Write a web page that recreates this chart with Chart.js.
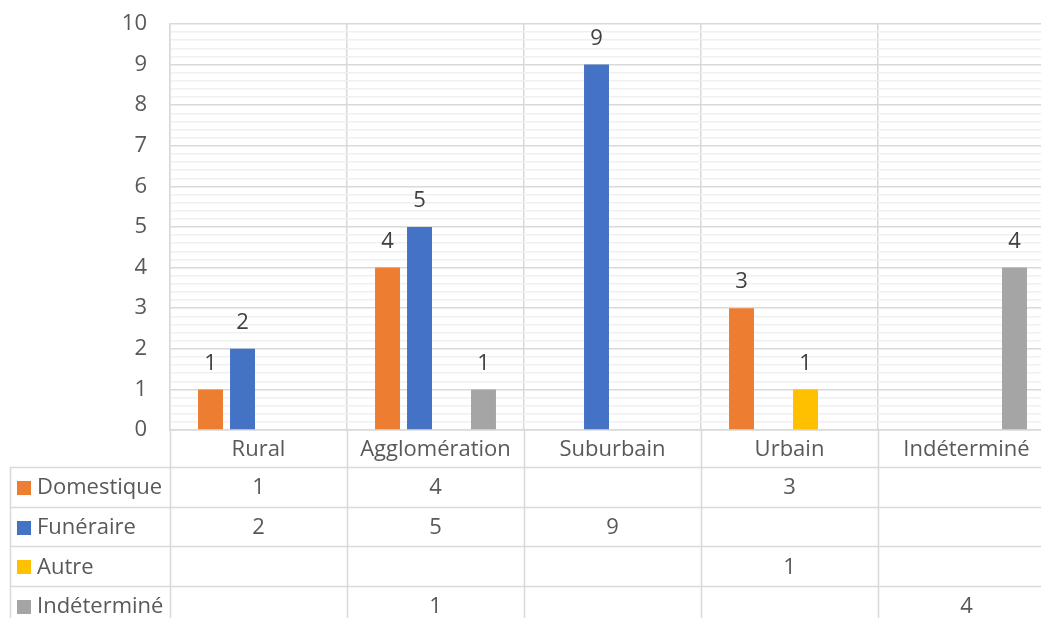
<!DOCTYPE html>
<html>
<head>
<meta charset="utf-8">
<script src="https://cdn.jsdelivr.net/npm/chart.js@4.4.1/dist/chart.umd.min.js"></script>
<style>
  html, body { margin: 0; padding: 0; background: #fff; overflow: hidden; }
  #wrap { width: 1060px; height: 618px; }
</style>
</head>
<body>
<div id="wrap"><canvas id="chart" width="1060" height="618"></canvas></div>
<script>
const categories = ['Rural', 'Agglomération', 'Suburbain', 'Urbain', 'Indéterminé'];
const seriesNames = ['Domestique', 'Funéraire', 'Autre', 'Indéterminé'];
const domestique = [1, 4, null, 3, null];
const funeraire  = [2, 5, 9, null, null];
const autre      = [null, null, null, 1, null];
const indetermine = [null, 1, null, null, 4];
const seriesColors = ['#ED7D31', '#4472C4', '#FFC000', '#A5A5A5'];

const FONT = '"Open Sans", Lato, sans-serif';
const FONT_SIZE = 22;
const TEXT = '#595959';
const LINE = '#d9d9d9';

const TABLE_TOP = 467;
const ROW_H = 39.7;

// value labels above each bar
const barLabels = {
  id: 'barLabels',
  afterDatasetsDraw(chart) {
    const ctx = chart.ctx;
    ctx.save();
    ctx.font = `${FONT_SIZE}px ${FONT}`;
    ctx.fillStyle = '#404040';
    ctx.textAlign = 'center';
    ctx.textBaseline = 'middle';
    chart.data.datasets.forEach((ds, i) => {
      chart.getDatasetMeta(i).data.forEach((bar, j) => {
        if (ds.data[j] == null) return;
        ctx.fillText(String(ds.data[j]), bar.x, bar.y - 26);
      });
    });
    ctx.restore();
  }
};

// Excel-like data table under the axis
const dataTable = {
  id: 'dataTable',
  afterDraw(chart) {
    const ctx = chart.ctx;
    const x = chart.scales.x;
    const area = chart.chartArea;
    const catW = (x.right - x.left) / categories.length;
    const bottom = chart.height;
    ctx.save();
    ctx.strokeStyle = LINE;
    ctx.lineWidth = 1.5;

    // vertical lines from the axis down
    for (let i = 0; i <= categories.length; i++) {
      const px = Math.round(x.left + i * catW) + 0.5;
      ctx.beginPath();
      ctx.moveTo(px, area.bottom);
      ctx.lineTo(px, bottom);
      ctx.stroke();
    }
    ctx.beginPath();
    ctx.moveTo(10.5, TABLE_TOP);
    ctx.lineTo(10.5, bottom);
    ctx.stroke();

    // horizontal row lines
    for (let r = 0; r <= seriesNames.length; r++) {
      const py = Math.round(TABLE_TOP + r * ROW_H) + 0.5;
      ctx.beginPath();
      ctx.moveTo(10, py);
      ctx.lineTo(chart.width, py);
      ctx.stroke();
    }

    ctx.font = `${FONT_SIZE}px ${FONT}`;
    ctx.textBaseline = 'middle';
    chart.data.datasets.forEach((ds, r) => {
      const cy = TABLE_TOP + r * ROW_H + ROW_H / 2;
      ctx.fillStyle = ds.backgroundColor;
      ctx.fillRect(17, Math.round(cy - 6), 14, 14);
      ctx.fillStyle = TEXT;
      ctx.textAlign = 'left';
      ctx.fillText(ds.label, 37, cy + 1);
      ctx.textAlign = 'center';
      ds.data.forEach((v, j) => {
        if (v == null) return;
        ctx.fillText(String(v), x.getPixelForValue(j), cy + 1);
      });
    });
    ctx.restore();
  }
};

const isMajor = v => Math.abs(v - Math.round(v)) < 1e-6;

new Chart(document.getElementById('chart'), {
  type: 'bar',
  data: {
    labels: categories,
    datasets: [
      { label: seriesNames[0], data: domestique, backgroundColor: seriesColors[0] },
      { label: seriesNames[1], data: funeraire, backgroundColor: seriesColors[1] },
      { label: seriesNames[2], data: autre, backgroundColor: seriesColors[2] },
      { label: seriesNames[3], data: indetermine, backgroundColor: seriesColors[3] },
    ],
  },
  options: {
    responsive: false,
    animation: false,
    categoryPercentage: 0.723,
    barPercentage: 0.78,
    layout: { padding: { top: 24, right: 5, bottom: 151, left: 0 } },
    plugins: {
      legend: { display: false },
      tooltip: { enabled: false },
    },
    scales: {
      x: {
        afterFit(scale) { scale.height = 37; },
        grid: { color: LINE, lineWidth: 1.5, offset: true, drawTicks: false },
        border: { color: LINE, width: 1.5 },
        ticks: { color: TEXT, font: { family: FONT, size: FONT_SIZE }, padding: 7 },
      },
      y: {
        min: 0,
        max: 10,
        afterFit(scale) {
          scale.width = 170;
          scale.paddingTop = 0;
          scale.paddingBottom = 0;
        },
        grid: {
          drawTicks: false,
          lineWidth: 1.5,
          color: c => isMajor(c.tick.value) ? LINE : '#f0f0f0',
        },
        border: { color: LINE, width: 1.5 },
        ticks: {
          stepSize: 0.2,
          autoSkip: false,
          padding: 23,
          color: TEXT,
          font: { family: FONT, size: FONT_SIZE },
          callback: v => isMajor(v) ? Math.round(v) : '',
        },
      },
    },
  },
  plugins: [barLabels, dataTable],
});
</script>
</body>
</html>
